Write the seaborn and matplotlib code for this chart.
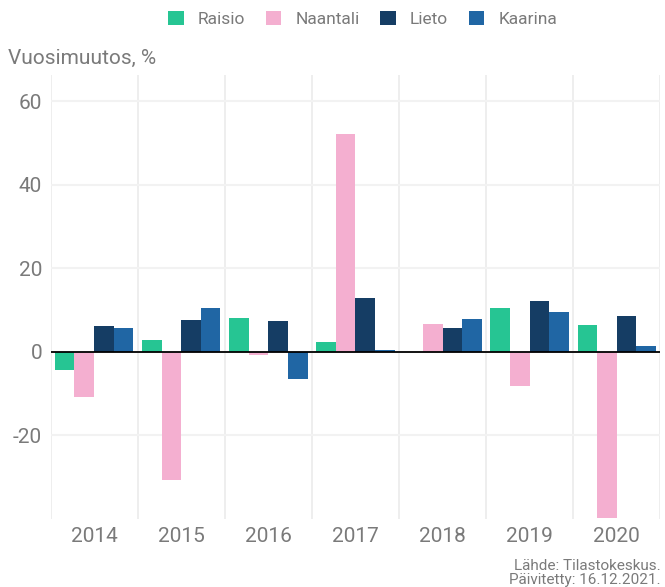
import pandas as pd
import numpy as np
import matplotlib
matplotlib.use("Agg")
import matplotlib.pyplot as plt
import seaborn as sns

# Vuosimuutos (%) per kunta, luettu kuvasta
years = ["2014", "2015", "2016", "2017", "2018", "2019", "2020"]
municipalities = ["Raisio", "Naantali", "Lieto", "Kaarina"]
raisio = [-4.3, 2.9, 8.1, 2.4, 0.0, 10.5, 6.5]
naantali = [-10.7, -30.6, -0.7, 52.1, 6.7, -8.1, -39.8]
lieto = [6.2, 7.7, 7.4, 12.9, 5.7, 12.2, 8.6]
kaarina = [5.7, 10.5, -6.6, 0.5, 7.9, 9.5, 1.4]
y_ticks = [-20, 0, 20, 40, 60]

colors = ["#26C593", "#F4AFD0", "#153D64", "#2066A4"]
TEXT = "#7a7a7a"

df = pd.DataFrame({
    "vuosi": years * 4,
    "kunta": np.repeat(municipalities, len(years)),
    "muutos": raisio + naantali + lieto + kaarina,
})

sns.set_theme(style="white")
plt.rcParams["font.family"] = ["Roboto", "DejaVu Sans"]

fig = plt.figure(figsize=(6.65, 5.87), dpi=100)
ax = fig.add_axes([0.076, 0.116, 0.917, 0.756])

sns.barplot(data=df, x="vuosi", y="muutos", hue="kunta", order=years,
            hue_order=municipalities, palette=colors, width=0.9,
            saturation=1, linewidth=0, ax=ax, legend=True)

ax.set_xlim(-0.5, 6.5)
ax.set_ylim(-40, 66.3)
ax.set_yticks(y_ticks)
ax.set_yticklabels([str(t) for t in y_ticks])
ax.set_xticks(np.arange(-0.5, 7, 0.5), minor=True)
ax.grid(True, which="minor", axis="x", color="#ebebeb", linewidth=1.2)
ax.grid(True, which="major", axis="y", color="#f2f2f2", linewidth=1.5)
ax.set_axisbelow(True)
ax.axhline(0, color="black", linewidth=1.3, zorder=5)

for s in ax.spines.values():
    s.set_visible(False)
ax.tick_params(axis="both", which="both", length=0, labelsize=15, colors=TEXT, pad=6)
ax.set_xlabel("")
ax.set_ylabel("")

fig.text(0.012, 0.9, "Vuosimuutos, %", fontsize=15, color=TEXT, va="center")

handles, labels = ax.get_legend_handles_labels()
ax.get_legend().remove()
fig.legend(handles, labels, loc="center", bbox_to_anchor=(0.545, 0.968), ncol=4,
           frameon=False, labelcolor=TEXT, handlelength=0.9, handleheight=0.9,
           handletextpad=0.8, columnspacing=1.2, prop={"size": 12.5})

fig.text(0.994, 0.023, "Lähde: Tilastokeskus.\nPäivitetty: 16.12.2021.", ha="right",
         va="center", fontsize=11, color=TEXT, linespacing=1.0)

fig.savefig("out.png", dpi=100)
